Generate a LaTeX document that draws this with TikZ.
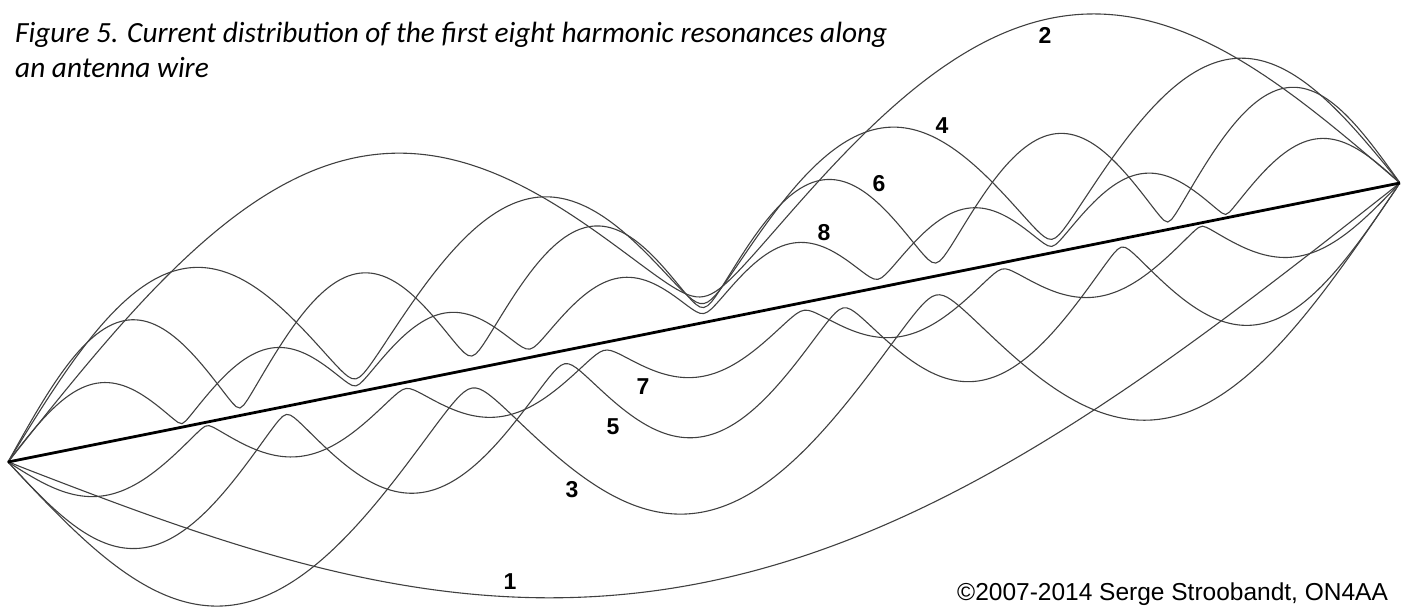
\documentclass[tikz,border=0pt]{standalone}
\usepackage{fontspec}
\newfontfamily\capfont{Carlito}
\newfontfamily\numfont{Liberation Sans}

\begin{document}
\begin{tikzpicture}[x=1pt,y=-1pt,
 wave/.style={draw=black!75,line width=1.1pt},
 wire/.style={draw=black,line width=2.8pt},
 num/.style={font=\numfont\bfseries\fontsize{23}{23}\selectfont,inner sep=0pt},
 caption/.style={font=\capfont\itshape\fontsize{29.3}{29.3}\selectfont,
 inner sep=0pt,anchor=base west},
 credit/.style={font=\numfont\fontsize{24.5}{24.5}\selectfont,
 inner sep=0pt,anchor=base west}]
\useasboundingbox (0,0) rectangle (1407,607);
\clip (0,0) rectangle (1407,607);
\coordinate (feedL) at (8,462);
\coordinate (feedR) at (1400,183);
\foreach \n/\amp/\rr/\side in {1/260/0/1,2/234/26/-1,3/188/22/1,4/158/19/-1,
 5/113/14/1,6/118/15/-1,7/53/8/1,8/61/9/-1}
 \draw[wave] plot[domain=0:1,samples=361]
 ({8+1392*\x},{462-279*\x+\side*\amp*sqrt((sin(\n*180*\x))^2+(\rr/\amp*sin(180*\x))^2)});
\draw[wire] (feedL) -- (feedR);
\node[num] (h1) at (510,582) {1};
\node[num] (h2) at (1045,35) {2};
\node[num] (h3) at (572,490) {3};
\node[num] (h4) at (942,126) {4};
\node[num] (h5) at (613,427) {5};
\node[num] (h6) at (879,184) {6};
\node[num] (h7) at (643,387) {7};
\node[num] (h8) at (824,233) {8};
\node[caption] (title1) at (15,43)
 {Figure 5. Current distribution of the first eight harmonic resonances along};
\node[caption] (title2) at (15,78) {an antenna wire};
\node[credit] (credit) at (957,600) {©2007-2014 Serge Stroobandt, ON4AA};
\end{tikzpicture}
\end{document}
